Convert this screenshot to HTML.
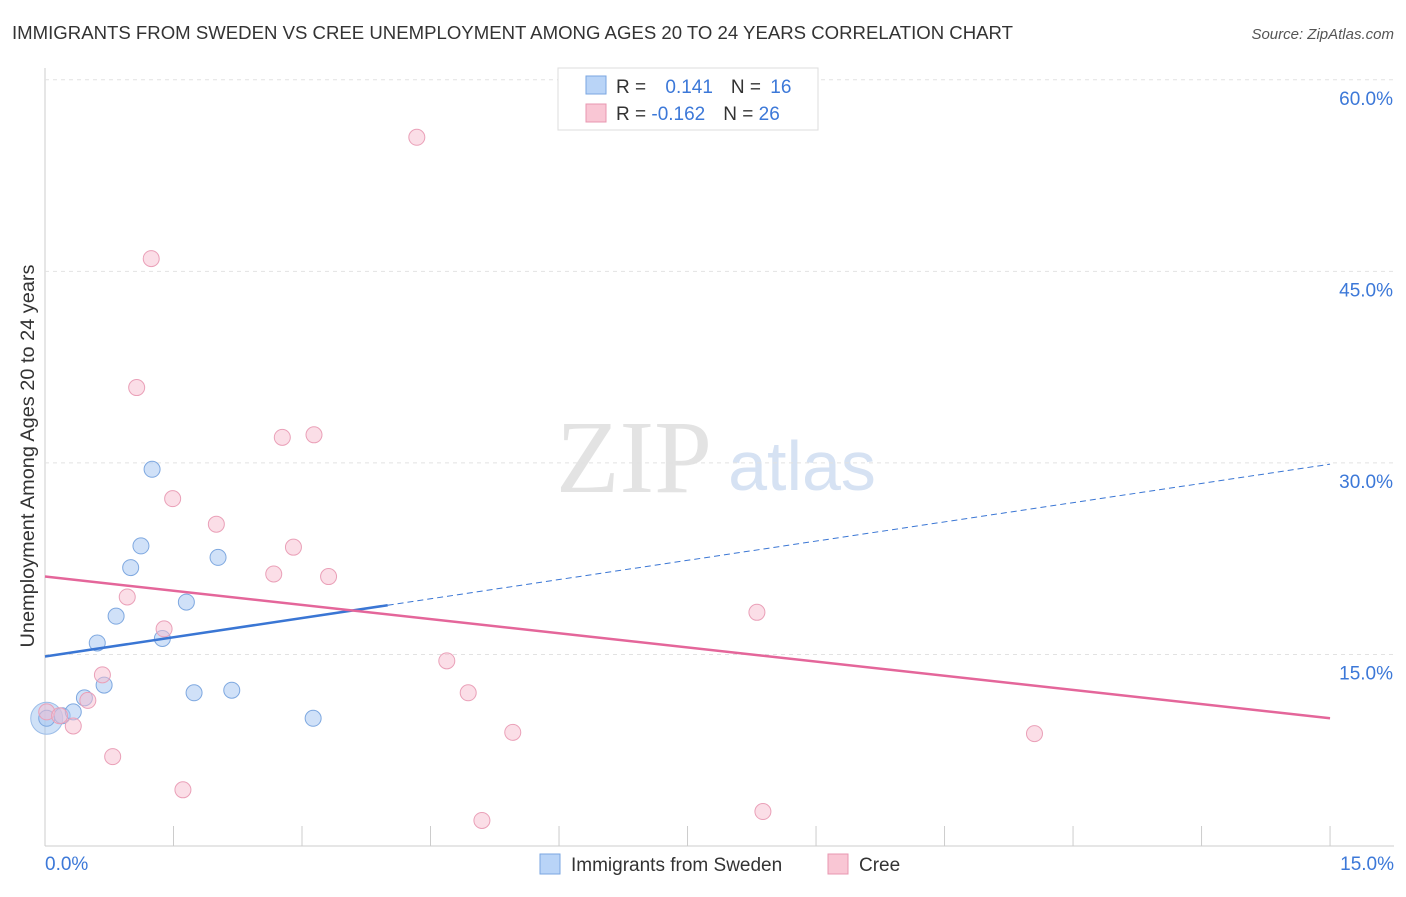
<!DOCTYPE html>
<html><head><meta charset="utf-8"><style>
body{margin:0;background:#fff;font-family:"Liberation Sans",sans-serif}
</style></head><body>
<svg id="c" width="1406" height="892" xmlns="http://www.w3.org/2000/svg">
<text x="12" y="39" font-size="18" fill="#333" textLength="1001" lengthAdjust="spacingAndGlyphs">IMMIGRANTS FROM SWEDEN VS CREE UNEMPLOYMENT AMONG AGES 20 TO 24 YEARS CORRELATION CHART</text>
<text x="1394" y="39" font-size="15" fill="#555" font-style="italic" text-anchor="end">Source: ZipAtlas.com</text>
<text x="634" y="492" font-size="104" fill="#e3e3e3" font-family="Liberation Serif" text-anchor="middle">ZIP</text>
<text x="802" y="490" font-size="70" fill="#d6e2f3" text-anchor="middle">atlas</text>
<text x="34" y="456" font-size="19" fill="#333" text-anchor="middle" textLength="383" lengthAdjust="spacingAndGlyphs" transform="rotate(-90 34 456)">Unemployment Among Ages 20 to 24 years</text>
<g id="grid"></g><g id="marks"></g>
<g>
<rect x="558" y="68" width="260" height="62" fill="#fff" stroke="#ddd"/>
<rect x="586" y="76" width="20" height="18" fill="#b9d4f7" stroke="#7aa6e0"/>
<rect x="586" y="104" width="20" height="18" fill="#f9c6d4" stroke="#e897b0"/>
<text x="616" y="93" font-size="19" fill="#333">R = <tspan fill="#3c78d8" dx="14">0.141</tspan><tspan dx="18" fill="#333">N = </tspan><tspan fill="#3c78d8" dx="4">16</tspan></text>
<text x="616" y="120" font-size="19" fill="#333">R = <tspan fill="#3c78d8">-0.162</tspan><tspan dx="18" fill="#333">N = </tspan><tspan fill="#3c78d8">26</tspan></text>
</g>
<g>
<rect x="540" y="854" width="20" height="20" fill="#b9d4f7" stroke="#7aa6e0"/>
<text x="571" y="871" font-size="19" fill="#333">Immigrants from Sweden</text>
<rect x="828" y="854" width="20" height="20" fill="#f9c6d4" stroke="#e897b0"/>
<text x="859" y="871" font-size="19" fill="#333">Cree</text>
</g>
</svg>
<script>
const yTicks=[15,30,45,60];
const yTickLabels=["15.0%","30.0%","45.0%","60.0%"];
const blueX=[0.02,0.2,0.33,0.46,0.61,0.69,0.83,1.0,1.12,1.25,1.37,1.65,1.74,2.02,2.18,3.13];
const blueY=[10.0,10.2,10.5,11.6,15.9,12.6,18.0,21.8,23.5,29.5,16.25,19.1,12.0,22.6,12.2,10.0];
const pinkX=[0.02,0.17,0.33,0.5,0.67,0.79,0.96,1.07,1.24,1.39,1.49,1.61,2.0,2.67,2.77,2.9,3.14,3.31,4.34,4.69,4.94,5.1,5.46,8.31,8.38,11.55];
const pinkY=[10.5,10.2,9.4,11.4,13.4,7.0,19.5,35.9,46.0,17.0,27.2,4.4,25.2,21.3,32.0,23.4,32.2,21.1,55.5,14.5,12.0,2.0,8.9,18.3,2.7,8.8];
const blueTrend=[14.84,29.9];
const pinkTrend=[21.1,10.0];
const NS="http://www.w3.org/2000/svg";
const X=v=>45+v*85.67, Y=v=>846-v*12.77;
const g=document.getElementById('grid'), m=document.getElementById('marks');
function mk(p,t,a){const e=document.createElementNS(NS,t);for(const k in a)e.setAttribute(k,a[k]);p.appendChild(e);return e;}
let e=mk(g,'line',{x1:45,y1:68,x2:45,y2:846,stroke:'#ccc'});


e=mk(g,'line',{x1:45,y1:846,x2:1394,y2:846,stroke:'#ccc'});


yTicks.forEach((t,i)=>{
 let l=mk(g,'line',{x1:45,y1:Y(t),x2:1394,y2:Y(t),stroke:'#e2e2e2','stroke-dasharray':'4 4'});
 
 
 let tx=mk(g,'text',{x:1393,y:Y(t)+25,'font-size':19,fill:'#3c78d8','text-anchor':'end'});
 tx.textContent=yTickLabels[i];
 
 
});
for(let i=0;i<=10;i++){let l=mk(g,'line',{x1:X(i*1.5),y1:826,x2:X(i*1.5),y2:846,stroke:'#ccc'});
 
 }
let t0=mk(g,'text',{x:45,y:870,'font-size':19,fill:'#3c78d8'});t0.textContent='0.0%';


let t1=mk(g,'text',{x:1394,y:870,'font-size':19,fill:'#3c78d8','text-anchor':'end'});t1.textContent='15.0%';


let b=mk(m,'circle',{cx:X(blueX[0]),cy:Y(blueY[0]),r:16,fill:'rgba(160,195,240,0.5)',stroke:'#9cbde8'});


blueX.forEach((x,i)=>{let c=mk(m,'circle',{cx:X(x),cy:Y(blueY[i]),r:8,fill:'rgba(170,200,242,0.55)',stroke:'#7ea8e0'});
 
 });
pinkX.forEach((x,i)=>{let c=mk(m,'circle',{cx:X(x),cy:Y(pinkY[i]),r:8,fill:'rgba(248,190,208,0.5)',stroke:'#eaa0b8'});
 
 });
const bAt=x=>blueTrend[0]+(blueTrend[1]-blueTrend[0])*x/15;
let l1=mk(m,'line',{x1:X(0),y1:Y(bAt(0)),x2:X(4),y2:Y(bAt(4)),stroke:'#3a76d4','stroke-width':2.5});


let l2=mk(m,'line',{x1:X(4),y1:Y(bAt(4)),x2:X(15),y2:Y(bAt(15)),stroke:'#3a76d4','stroke-width':1,'stroke-dasharray':'6 4'});


let l3=mk(m,'line',{x1:X(0),y1:Y(pinkTrend[0]),x2:X(15),y2:Y(pinkTrend[1]),stroke:'#e4669a','stroke-width':2.5});


</script>
</body></html>
